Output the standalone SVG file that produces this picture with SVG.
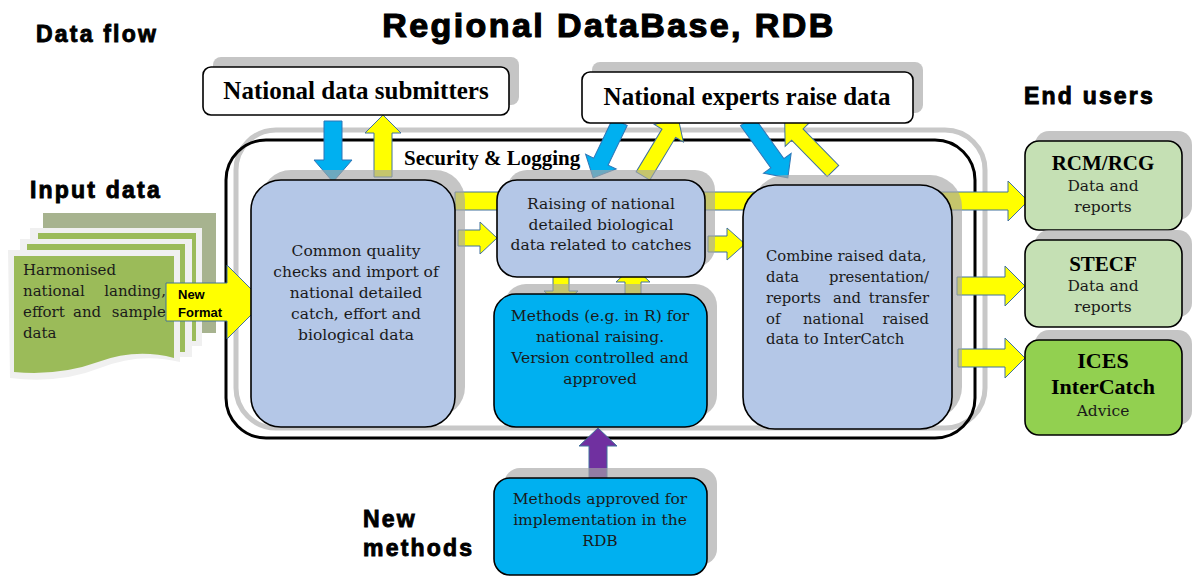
<svg xmlns="http://www.w3.org/2000/svg" width="1192" height="577" viewBox="0 0 1192 577">
<style>
.h{font-family:"Liberation Sans",Arial,sans-serif;font-weight:bold;fill:#000;stroke:#000;stroke-width:0.9;letter-spacing:2.2px}
.t{font-family:"DejaVu Serif","Liberation Serif",serif;font-size:15.5px;fill:#1a1a1a}
.tb{font-family:"Liberation Serif","DejaVu Serif",serif;font-weight:bold;fill:#000}
.sh{fill:#a6a6a6;opacity:0.65}
.box{stroke:#000;stroke-width:1.6}
.y{fill:#ffff00;stroke:#41719c;stroke-width:1}
.b{fill:#00b0f0;stroke:#2e75b6;stroke-width:1}
.p{fill:#7030a0;stroke:#41719c;stroke-width:1}
</style>
<rect width="1192" height="577" fill="#fff"/>
<text class="h" x="609" y="37" font-size="34" text-anchor="middle" style="letter-spacing:2.4px;stroke-width:1.2">Regional DataBase, RDB</text>
<text class="h" x="36" y="42" font-size="23">Data flow</text>
<text class="h" x="1024" y="104" font-size="23">End users</text>
<text class="h" x="30" y="198" font-size="23">Input data</text>
<text class="h" x="363" y="527" font-size="23">New</text>
<text class="h" x="363" y="556" font-size="23">methods</text>

<g id="rdb-frame">
<rect x="236" y="130" width="749" height="298" rx="40" fill="none" stroke="#c8c8c8" stroke-width="5"/>
<rect x="226" y="140" width="749" height="298" rx="40" fill="none" stroke="#000" stroke-width="3"/>
<text class="tb" x="404" y="165" font-size="21">Security &amp; Logging</text>
</g>

<g id="input-data">
<rect x="43" y="213" width="173" height="120" fill="#a7b38f"/>
<rect x="30" y="228" width="172" height="118" fill="#f0f0f0"/>
<rect x="38" y="233" width="158" height="108" fill="#9bbb59"/>
<rect x="20" y="239" width="172" height="118" fill="#f0f0f0"/>
<rect x="27" y="244" width="158" height="108" fill="#9bbb59"/>
<path d="M8,250 H180 V362 Q140,352 100,368 T10,378 Z" fill="#f0f0f0"/>
<path d="M14,256 H174 V358 Q136,348 98,362 T14,372 Z" fill="#9bbb59"/>
<g class="t" style="font-size:15px">
<text x="23" y="275">Harmonised</text>
<text x="23" y="296">national</text>
<text x="166" y="296" text-anchor="end">landing,</text>
<text x="23" y="317">effort</text>
<text x="73" y="317">and</text>
<text x="166" y="317" text-anchor="end">sample</text>
<text x="23" y="338">data</text>
</g>
</g>

<g id="connectors">
<path class="y" transform="translate(455,201)" d="M0,-9 H553 V-20 L573,0 L553,20 V9 H0 Z"/>
<path class="y" transform="translate(166,302)" d="M0,-19 H61 V-37 L98,0 L61,37 V19 H0 Z"/>
<path class="b" transform="translate(333,121) rotate(90)" d="M0,-9 H39 V-19 L61,0 L39,19 V9 H0 Z"/>
<path class="y" transform="translate(383,177) rotate(-90)" d="M0,-9 H44 V-18 L62,0 L44,18 V9 H0 Z"/>
<path class="y" transform="translate(458,238)" d="M0,-8 H22 V-16 L39,0 L22,16 V8 H0 Z"/>
<path class="y" transform="translate(708,244)" d="M0,-8 H19 V-16 L37,0 L19,16 V8 H0 Z"/>
<path class="y" transform="translate(561,269) rotate(90)" d="M0,-8 H22 V-17 L38,0 L22,17 V8 H0 Z"/>
<path class="y" transform="translate(633,300) rotate(-90)" d="M0,-8 H18 V-17 L34,0 L18,17 V8 H0 Z"/>
<path class="p" transform="translate(598,478) rotate(-90)" d="M0,-9 H32 V-19 L50,0 L32,19 V9 H0 Z"/>
<path class="b" transform="translate(620,122) rotate(115.7)" d="M0,-8 H44 V-17 L62,0 L44,17 V8 H0 Z"/>
<path class="y" transform="translate(643,176) rotate(-58.9)" d="M0,-8 H50 V-17 L68,0 L50,17 V8 H0 Z"/>
<path class="b" transform="translate(747,121) rotate(54.3)" d="M0,-8 H52 V-17 L70,0 L52,17 V8 H0 Z"/>
<path class="y" transform="translate(833,171) rotate(-134.4)" d="M0,-8 H51 V-17 L69,0 L51,17 V8 H0 Z"/>
<path class="y" transform="translate(957,286)" d="M0,-9 H48 V-20 L68,0 L48,20 V9 H0 Z"/>
<path class="y" transform="translate(958,358)" d="M0,-9 H47 V-20 L67,0 L47,20 V9 H0 Z"/>
</g>

<g id="national-data-submitters">
<rect class="sh" x="213" y="57" width="306" height="48" rx="8"/>
<rect class="box" x="203" y="67" width="306" height="48" rx="8" fill="#fff"/>
<text class="tb" x="356" y="99" font-size="25" text-anchor="middle">National data submitters</text>
</g>

<g id="national-experts">
<rect class="sh" x="592" y="62" width="331" height="51" rx="8"/>
<rect class="box" x="582" y="72" width="331" height="51" rx="8" fill="#fff"/>
<text class="tb" x="747" y="105" font-size="25" text-anchor="middle">National experts raise data</text>
</g>

<g id="common-quality">
<rect class="sh" x="261" y="170" width="204" height="247" rx="30"/>
<rect class="box" x="251" y="180" width="204" height="247" rx="30" fill="#b4c7e7"/>
<g class="t" text-anchor="middle">
<text x="356" y="256">Common quality</text>
<text x="356" y="277">checks and import of</text>
<text x="356" y="298">national detailed</text>
<text x="356" y="319">catch, effort and</text>
<text x="356" y="340">biological data</text>
</g>
</g>

<g id="raising">
<rect class="sh" x="507" y="170" width="208" height="97" rx="20"/>
<rect class="box" x="497" y="180" width="208" height="97" rx="20" fill="#b4c7e7"/>
<g class="t" text-anchor="middle">
<text x="601" y="209">Raising of national</text>
<text x="601" y="230">detailed biological</text>
<text x="601" y="250">data related to catches</text>
</g>
</g>

<g id="methods">
<rect class="sh" x="504" y="284" width="213" height="133" rx="22"/>
<rect class="box" x="494" y="294" width="213" height="133" rx="22" fill="#00b0f0"/>
<g class="t" text-anchor="middle">
<text x="600" y="321">Methods (e.g. in R) for</text>
<text x="600" y="342">national raising.</text>
<text x="600" y="363">Version controlled and</text>
<text x="600" y="384">approved</text>
</g>
</g>

<g id="combine">
<rect class="sh" x="753" y="175" width="209" height="244" rx="32"/>
<rect class="box" x="743" y="185" width="209" height="244" rx="32" fill="#b4c7e7"/>
<g class="t" style="font-size:14.8px">
<text x="766" y="261">Combine raised data,</text>
<text x="766" y="282">data</text>
<text x="929" y="282" text-anchor="end">presentation/</text>
<text x="766" y="303">reports</text>
<text x="847" y="303" text-anchor="middle">and</text>
<text x="929" y="303" text-anchor="end">transfer</text>
<text x="766" y="324">of</text>
<text x="803" y="324">national</text>
<text x="929" y="324" text-anchor="end">raised</text>
<text x="766" y="344">data to InterCatch</text>
</g>
</g>

<g id="rcm-rcg">
<rect class="sh" x="1035" y="131" width="157" height="89" rx="14"/>
<rect class="box" x="1025" y="141" width="157" height="89" rx="14" fill="#c5e0b4"/>
<text class="tb" x="1103" y="170" font-size="21" text-anchor="middle">RCM/RCG</text>
<text class="t" x="1103" y="191" text-anchor="middle">Data and</text>
<text class="t" x="1103" y="212" text-anchor="middle">reports</text>
</g>

<g id="stecf">
<rect class="sh" x="1035" y="230" width="157" height="87" rx="14"/>
<rect class="box" x="1025" y="240" width="157" height="87" rx="14" fill="#c5e0b4"/>
<text class="tb" x="1103" y="271" font-size="21" text-anchor="middle">STECF</text>
<text class="t" x="1103" y="291" text-anchor="middle">Data and</text>
<text class="t" x="1103" y="312" text-anchor="middle">reports</text>
</g>

<g id="ices">
<rect class="sh" x="1035" y="330" width="157" height="95" rx="14"/>
<rect class="box" x="1025" y="340" width="157" height="95" rx="14" fill="#92d050"/>
<text class="tb" x="1103" y="368" font-size="22" text-anchor="middle">ICES</text>
<text class="tb" x="1103" y="394" font-size="22" text-anchor="middle">InterCatch</text>
<text class="t" x="1103" y="416" text-anchor="middle">Advice</text>
</g>

<g id="methods-approved">
<rect class="sh" x="504" y="468" width="213" height="97" rx="16"/>
<rect class="box" x="494" y="478" width="213" height="97" rx="16" fill="#00b0f0"/>
<g class="t" text-anchor="middle">
<text x="600" y="504">Methods approved for</text>
<text x="600" y="525">implementation in the</text>
<text x="600" y="546">RDB</text>
</g>
</g>

<g id="new-format-label" font-family="Liberation Sans,Arial,sans-serif" font-weight="bold" font-size="13">
<text x="178" y="299">New</text>
<text x="178" y="317">Format</text>
</g>
</svg>
